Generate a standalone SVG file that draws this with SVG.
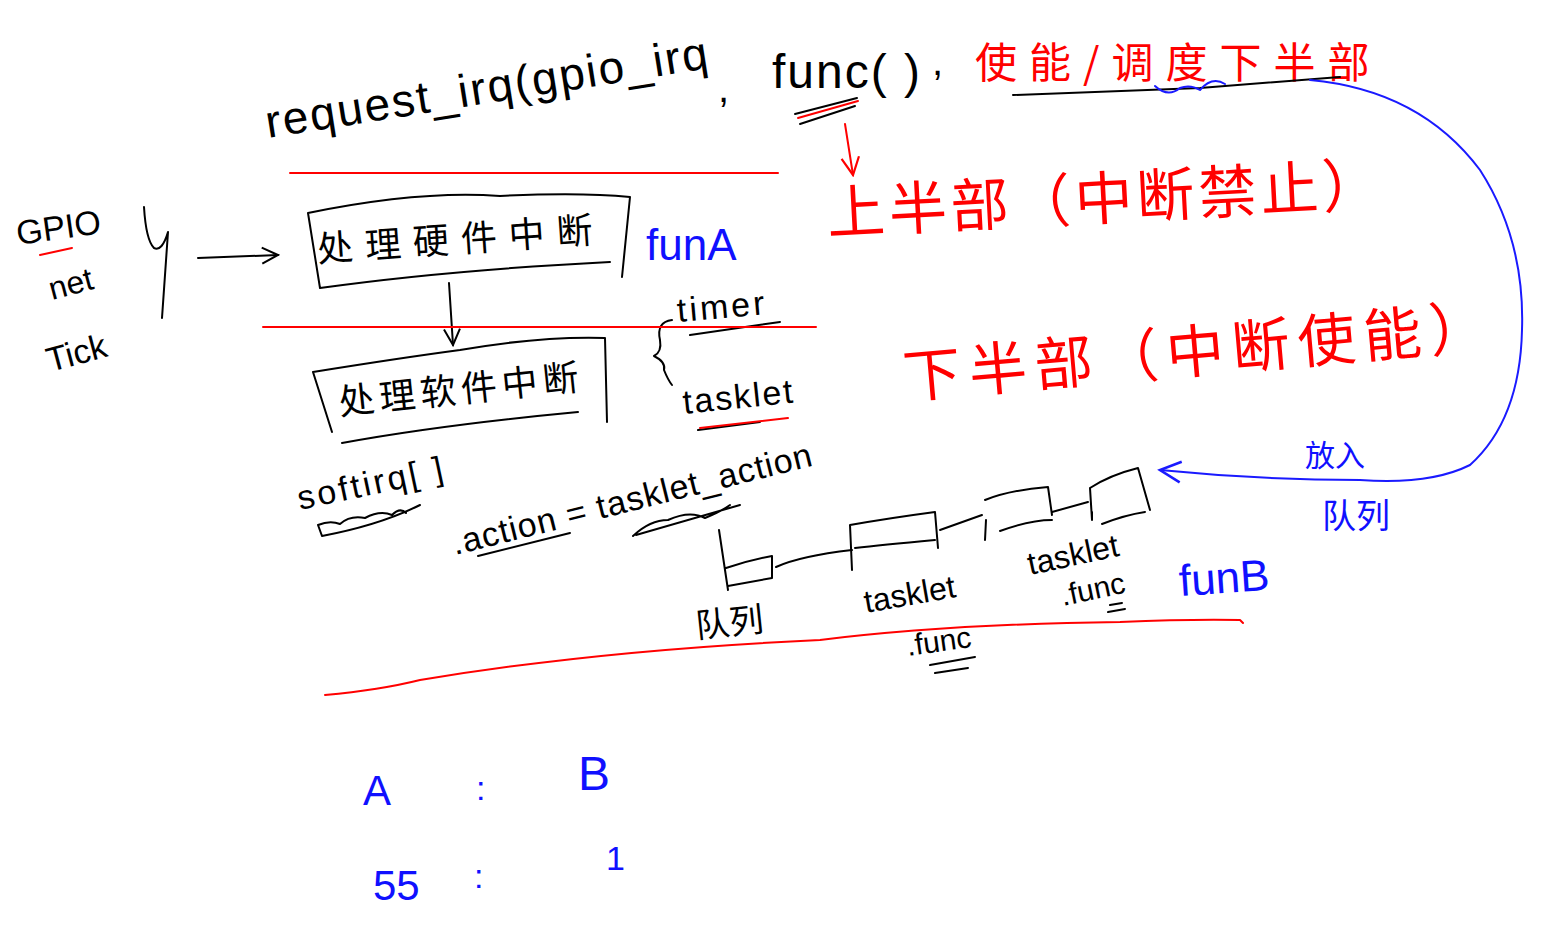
<svg xmlns="http://www.w3.org/2000/svg" width="1549" height="937" viewBox="0 0 1549 937">
<style>
.k{fill:#000;font-family:"Liberation Sans","Noto Sans CJK SC",sans-serif}
.r{fill:#ff0000;font-family:"Noto Sans CJK SC","Liberation Sans",sans-serif}
.b{fill:#1010ff;font-family:"Liberation Sans","Noto Sans CJK SC",sans-serif}
.ck{fill:#000;font-family:"Noto Sans CJK SC",sans-serif}
.sk{fill:none;stroke:#000;stroke-width:2;stroke-linecap:round;stroke-linejoin:round}
.sr{fill:none;stroke:#ff0000;stroke-width:2;stroke-linecap:round;stroke-linejoin:round}
.sb{fill:none;stroke:#1a1aff;stroke-width:2;stroke-linecap:round;stroke-linejoin:round}
</style>
<defs>
<marker id="ak" viewBox="0 0 20 20" refX="18" refY="10" markerWidth="20" markerHeight="20" markerUnits="userSpaceOnUse" orient="auto"><path d="M2,2 L18,10 L2,18" fill="none" stroke="#000" stroke-width="2"/></marker>
<marker id="ar" viewBox="0 0 20 20" refX="18" refY="10" markerWidth="22" markerHeight="22" markerUnits="userSpaceOnUse" orient="auto"><path d="M2,2 L18,10 L2,18" fill="none" stroke="#ff0000" stroke-width="2"/></marker>
<marker id="ab" viewBox="0 0 20 20" refX="18" refY="10" markerWidth="26" markerHeight="26" markerUnits="userSpaceOnUse" orient="auto"><path d="M2,2 L18,10 L2,18" fill="none" stroke="#1a1aff" stroke-width="2"/></marker>
</defs>
<rect width="1549" height="937" fill="#fff"/>

<g id="title">
<text class="k" x="268" y="138" font-size="46" letter-spacing="2" transform="rotate(-9 268 138)">request_irq(gpio_irq</text>
<text class="k" x="718" y="102" font-size="40">,</text>
<text class="k" x="772" y="88" font-size="48" letter-spacing="2">func( )</text>
<text class="k" x="932" y="75" font-size="40">,</text>
<text class="r" x="975" y="78" font-size="42" letter-spacing="12">使能/调度下半部</text>
<path class="sk" d="M1013,95 L1200,88 L1340,77"/>
<path class="sb" d="M1155,86 Q1168,98 1180,88 Q1190,84 1200,90 Q1212,76 1225,84"/>
<path class="sk" d="M795,114 L857,98 M800,124 L855,106"/>
<path class="sr" d="M798,118 L858,101"/>
</g>

<g id="gpio-sources">
<text class="k" x="18" y="245" font-size="34" transform="rotate(-8 18 245)">GPIO</text>
<path class="sr" d="M40,255 L72,248"/>
<text class="k" x="52" y="300" font-size="32" transform="rotate(-15 52 300)">net</text>
<text class="k" x="50" y="372" font-size="34" transform="rotate(-15 50 372)">Tick</text>
<path class="sk" d="M144,207 Q146,240 154,248 Q162,252 168,232 L162,318"/>
</g>

<g id="hw-irq">
<path class="sk" d="M308,213 Q420,190 500,196 Q580,192 630,197 L622,277 M610,262 Q450,270 320,288 L308,213"/>
<text class="ck" x="318" y="262" font-size="36" letter-spacing="12" transform="rotate(-4 318 262)">处理硬件中断</text>
<text class="b" x="646" y="260" font-size="44">funA</text>
</g>

<g id="sw-irq">
<path class="sk" d="M313,372 Q400,358 460,350 Q540,336 605,338 L607,422 M578,412 Q440,425 342,443 M313,372 L332,432"/>
<text class="ck" x="340" y="415" font-size="36" letter-spacing="5" transform="rotate(-6 340 415)">处理软件中断</text>
</g>

<g id="softirq-types">
<path class="sk" d="M672,320 Q656,322 660,340 Q662,352 654,356 Q666,362 664,370 Q668,380 672,385"/>
<text class="k" x="678" y="322" font-size="34" letter-spacing="3" transform="rotate(-5 678 322)">timer</text>
<path class="sk" d="M690,335 L780,322"/>
<text class="k" x="684" y="414" font-size="34" letter-spacing="2" transform="rotate(-6 684 414)">tasklet</text>
<path class="sk" d="M698,430 L760,422"/>
<path class="sr" d="M700,428 L788,418"/>
</g>

<g id="softirq">
<text class="k" x="300" y="510" font-size="34" letter-spacing="3" transform="rotate(-12 300 510)">softirq[ ]</text>
<path class="sk" d="M322,536 L318,525 Q330,520 340,524 Q350,515 365,518 Q380,510 392,515 Q400,507 406,513 M322,536 Q380,525 420,505"/>
<text class="k" x="455" y="555" font-size="34" letter-spacing="1" transform="rotate(-14 455 555)">.action = tasklet_action</text>
<path class="sk" d="M478,556 L570,533"/>
<path class="sk" d="M633,536 Q650,520 668,520 Q690,510 705,518 Q720,512 730,505 M636,535 L740,505"/>
</g>

<g id="queue">
<path class="sk" d="M719,530 L728,590 M726,568 Q750,560 772,556 L772,578 L728,586"/>
<path class="sk" d="M850,525 Q890,518 935,512 L938,548 M855,548 Q880,545 935,540 M850,525 L852,570"/>
<path class="sk" d="M985,500 Q1010,490 1048,487 L1052,515 M986,520 L985,540 M1000,531 Q1030,520 1052,520"/>
<path class="sk" d="M1090,488 Q1110,475 1138,468 L1150,510 M1092,512 L1092,520 M1102,524 Q1125,515 1145,512 M1090,488 L1092,520"/>
<text class="ck" x="697" y="638" font-size="34" transform="rotate(-6 697 638)">队列</text>
<text class="k" x="866" y="613" font-size="32" transform="rotate(-10 866 613)">tasklet</text>
<text class="k" x="908" y="656" font-size="30" transform="rotate(-8 908 656)">.func</text>
<path class="sk" d="M930,665 L975,657 M935,673 L968,668"/>
<text class="k" x="1030" y="575" font-size="32" transform="rotate(-12 1030 575)">tasklet</text>
<text class="k" x="1063" y="606" font-size="30" transform="rotate(-12 1063 606)">.func</text>
<path class="sk" d="M1110,605 L1122,603 M1108,612 L1125,609"/>
<text class="b" x="1180" y="596" font-size="44" transform="rotate(-4 1180 596)">funB</text>
</g>

<g id="connectors">
<path class="sk" d="M198,258 L278,255" marker-end="url(#ak)"/>
<path class="sk" d="M449,283 L453,345" marker-end="url(#ak)"/>
<path class="sr" d="M845,124 L853,175" marker-end="url(#ar)"/>
<path class="sk" d="M776,567 Q800,556 852,550"/>
<path class="sk" d="M940,530 L982,515"/>
<path class="sk" d="M1052,512 L1088,502"/>
<path class="sb" d="M1310,80 Q1420,90 1480,170 Q1525,240 1522,330 Q1520,420 1470,465 Q1430,485 1360,480 Q1260,480 1160,470" marker-end="url(#ab)"/>
</g>

<g id="dividers">
<path class="sr" d="M290,173 L778,173"/>
<path class="sr" d="M263,327 L816,327"/>
<path class="sr" d="M325,695 Q380,690 420,680 Q600,650 820,640 Q950,624 1120,622 Q1190,619 1240,620 L1243,623"/>
</g>

<g id="halves">
<text class="r" x="828" y="234" font-size="58" letter-spacing="4" transform="rotate(-3 828 234)">上半部（中断禁止）</text>
<text class="r" x="905" y="398" font-size="58" letter-spacing="8" transform="rotate(-5 905 398)">下半部（中断使能）</text>
</g>

<g id="queue-in">
<text class="b" x="1305" y="466" font-size="30" font-family="Noto Sans CJK SC">放入</text>
<text class="b" x="1322" y="528" font-size="34" font-family="Noto Sans CJK SC">队列</text>
</g>

<g id="ratio">
<text class="b" x="363" y="805" font-size="42">A</text>
<text class="b" x="476" y="800" font-size="34">:</text>
<text class="b" x="578" y="790" font-size="48">B</text>
<text class="b" x="373" y="900" font-size="42">55</text>
<text class="b" x="474" y="888" font-size="34">:</text>
<text class="b" x="606" y="870" font-size="34">1</text>
</g>
</svg>
